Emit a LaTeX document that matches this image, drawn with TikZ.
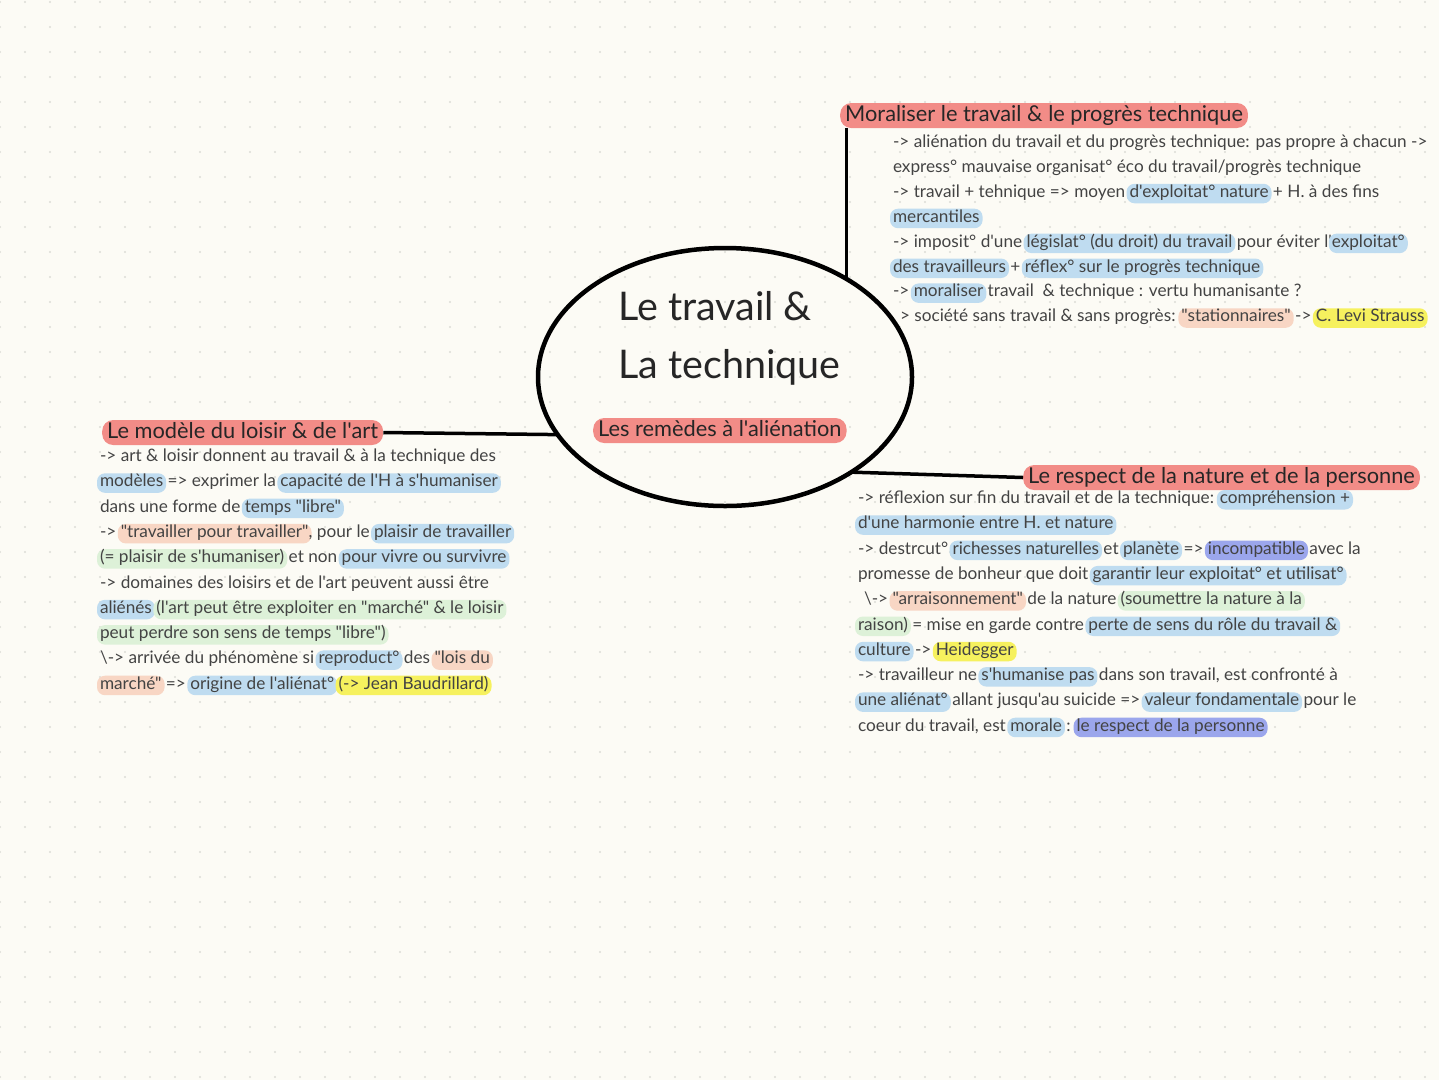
\documentclass[tikz,border=0pt]{standalone}
\usepackage{fontspec}
\setmainfont{Lato}[Ligatures=TeXOff]
\usetikzlibrary{shapes.geometric}
\definecolor{bg}{HTML}{FCFBF5}
\definecolor{dotc}{HTML}{DCDCD6}
\definecolor{txt}{HTML}{434343}
\definecolor{hred}{HTML}{F28C87}
\definecolor{hblue}{HTML}{BFDCF0}
\definecolor{hpurple}{HTML}{9BA6EC}
\definecolor{hpeach}{HTML}{F8D6C4}
\definecolor{hyellow}{HTML}{F6F15E}
\definecolor{hgreen}{HTML}{DDF1D8}
\newlength\hlw
\newbox\hlbox
\newcommand\hl[2]{\setbox\hlbox\hbox{#2}\hlw=\wd\hlbox\relax\tikz[baseline=0pt,overlay]\fill[#1,rounded corners=8pt](-3pt,-6pt) rectangle (\hlw+3pt,13.5pt);\box\hlbox}
\begin{document}
\begin{tikzpicture}[x=1pt,y=-1pt,
  body/.style={anchor=base west, inner sep=0pt, outer sep=0pt, font=\fontsize{17.2}{19}\selectfont, text=txt},
  ttl/.style={anchor=base west, fill=hred, rounded corners=11pt, inner xsep=5pt, inner ysep=2pt, text height=16pt, text depth=5pt, font=\fontsize{21.8}{23}\selectfont, text=black!85},
  conn/.style={line width=3.5pt, black},
  big/.style={anchor=base west, inner sep=0pt, font=\fontsize{39.5}{41}\selectfont, text=black!85}]
\fill[bg] (0,0) rectangle (1439,1080);
\useasboundingbox (0,0) rectangle (1439,1080);
\foreach \i in {0,...,57}{\foreach \j in {0,...,43}{\fill[dotc] (\i*25,\j*25+2) circle (1.2);}}
% central ellipse
\node[ellipse, draw=black, line width=4.5pt, minimum width=374pt, minimum height=258pt, inner sep=0pt, outer sep=0pt] (c) at (725,377) {};
\node[big] (m1) at (618,320) {Le travail \&};
\node[big] (m2) at (618,378) {La technique};
\node[ttl] (sub) at (593,436) {Les remèdes à l'aliénation};
% titles
\node[ttl] (t1) at (840,121) {Moraliser le travail \& le progrès technique};
\node[ttl] (t2) at (102,438) {Le modèle du loisir \& de l'art};
\node[ttl] (t3) at (1023,483) {Le respect de la nature et de la personne};
% connectors
\draw[conn] (c.39 |- t1.south) -- (c.39);
\draw[conn] (t2.east) -- (c.199);
\draw[conn] (c.323) -- (t3.west);
% top-right block
\node[body] (a1) at (893,147.5) {-> aliénation du travail et du progrès technique: pas propre à chacun ->};
\node[body] (a2) at (893,172.4) {express° mauvaise organisat° éco du travail/progrès technique};
\node[body] (a3) at (893,197.3) {-> travail + tehnique => moyen \hl{hblue}{d'exploitat° nature} + H. à des fins};
\node[body] (a4) at (893,222.2) {\hl{hblue}{mercantiles}};
\node[body] (a5) at (893,247.1) {-> imposit° d'une \hl{hblue}{législat° (du droit) du travail} pour éviter l'\hl{hblue}{exploitat°}};
\node[body] (a6) at (893,272) {\hl{hblue}{des travailleurs} + \hl{hblue}{réflex° sur le progrès technique}};
\node[body] (a7) at (893,296.9) {-> \hl{hblue}{moraliser} travail \ \& technique : vertu humanisante ?};
\node[body] (a8) at (900,321.8) {> société sans travail \& sans progrès: \hl{hpeach}{"stationnaires"} -> \hl{hyellow}{C. Levi Strauss}};
% left block
\node[body] (b1) at (100,461.5) {-> art \& loisir donnent au travail \& à la technique des};
\node[body] (b2) at (100,486.8) {\hl{hblue}{modèles} => exprimer la \hl{hblue}{capacité de l'H à s'humaniser}};
\node[body] (b3) at (100,512.1) {dans une forme de \hl{hblue}{temps "libre"}};
\node[body] (b4) at (100,537.4) {-> \hl{hpeach}{"travailler pour travailler"}, pour le \hl{hblue}{plaisir de travailler}};
\node[body] (b5) at (100,562.7) {\hl{hgreen}{(= plaisir de s'humaniser)} et non \hl{hblue}{pour vivre ou survivre}};
\node[body] (b6) at (100,588) {-> domaines des loisirs et de l'art peuvent aussi être};
\node[body] (b7) at (100,613.3) {\hl{hblue}{aliénés} \hl{hgreen}{(l'art peut être exploiter en "marché" \& le loisir}};
\node[body] (b8) at (100,638.6) {\hl{hgreen}{peut perdre son sens de temps "libre")}};
\node[body] (b9) at (100,663.9) {\textbackslash-> arrivée du phénomène si \hl{hblue}{reproduct°} des \hl{hpeach}{"lois du}};
\node[body] (b10) at (100,689.2) {\hl{hpeach}{marché"} => \hl{hblue}{origine de l'aliénat°} \hl{hyellow}{(-> Jean Baudrillard)}};
% right block
\node[body] (r1) at (858,503.5) {-> réflexion sur fin du travail et de la technique: \hl{hblue}{compréhension +}};
\node[body] (r2) at (858,528.8) {\hl{hblue}{d'une harmonie entre H. et nature}};
\node[body] (r3) at (858,554.1) {-> destrcut° \hl{hblue}{richesses naturelles} et \hl{hblue}{planète} => \hl{hpurple}{incompatible} avec la};
\node[body] (r4) at (858,579.4) {promesse de bonheur que doit \hl{hblue}{garantir leur exploitat° et utilisat°}};
\node[body] (r5) at (864,604.7) {\textbackslash-> \hl{hpeach}{"arraisonnement"} de la nature \hl{hgreen}{(soumettre la nature à la}};
\node[body] (r6) at (858,630) {\hl{hgreen}{raison)} = mise en garde contre \hl{hblue}{perte de sens du rôle du travail \&}};
\node[body] (r7) at (858,655.3) {\hl{hblue}{culture} -> \hl{hyellow}{Heidegger}};
\node[body] (r8) at (858,680.6) {-> travailleur ne \hl{hblue}{s'humanise pas} dans son travail, est confronté à};
\node[body] (r9) at (858,705.9) {\hl{hblue}{une aliénat°} allant jusqu'au suicide => \hl{hblue}{valeur fondamentale} pour le};
\node[body] (r10) at (858,731.2) {coeur du travail, est \hl{hblue}{morale} : \hl{hpurple}{le respect de la personne}};
\end{tikzpicture}
\end{document}
